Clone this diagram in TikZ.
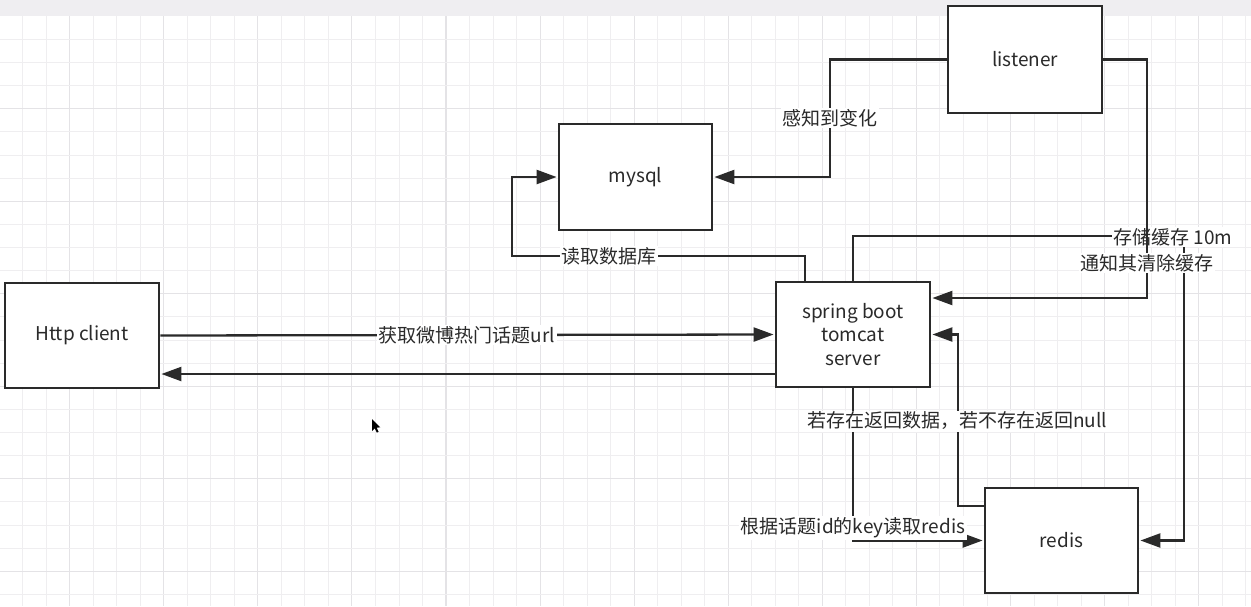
\documentclass[tikz,border=0pt]{standalone}
\usepackage{fontspec}
\setmainfont{Noto Sans CJK SC}
\usetikzlibrary{arrows.meta}
\definecolor{gridminor}{HTML}{EFEEF0}
\definecolor{gridmajor}{HTML}{E4E3E6}
\definecolor{band}{HTML}{EFEEF1}
\definecolor{ink}{HTML}{2A2A2A}
\tikzset{
  box/.style={draw=ink, line width=2.8pt, fill=white, minimum width=154pt, minimum height=105pt, inner sep=0pt, align=center, text=ink, font=\fontsize{19pt}{23.5pt}\selectfont},
  conn/.style={draw=ink, line width=2.3pt, -{Triangle[length=20pt,width=14pt]}, shorten >=1pt},
  plain/.style={draw=ink, line width=2.3pt},
  lbl/.style={fill=white, text=ink, inner sep=1.5pt, font=\fontsize{19pt}{23.5pt}\selectfont, align=center}
}
\begin{document}
\begin{tikzpicture}[x=1pt,y=-1pt]
\useasboundingbox (0,0) rectangle (1251,606);
% background
\fill[white] (0,0) rectangle (1251,606);
\foreach \k in {-2,...,50} {
  \pgfmathsetmacro\xx{69.7+23.52*\k}
  \pgfmathtruncatemacro\m{mod(\k+400,4)}
  \ifnum\m=0
    \draw[gridmajor, line width=1.1pt] (\xx,16.3) -- (\xx,606);
  \else
    \draw[gridminor, line width=0.9pt] (\xx,16.3) -- (\xx,606);
  \fi
}
\foreach \k in {-3,...,22} {
  \pgfmathsetmacro\yy{108.7+23.125*\k}
  \pgfmathtruncatemacro\m{mod(\k+400,4)}
  \ifnum\m=0
    \draw[gridmajor, line width=1.1pt] (0,\yy) -- (1251,\yy);
  \else
    \draw[gridminor, line width=0.9pt] (0,\yy) -- (1251,\yy);
  \fi
}
\fill[band] (0,0) rectangle (1251,16.3);

% nodes
\node[box, minimum height=107pt] (listener) at (1025,59.5) {listener};
\node[box, minimum width=153pt, minimum height=106pt] (mysql) at (635.5,177) {mysql};
\node[box] (http) at (82,335.5) {Http client};
\node[box] (spring) at (853,334.5) {spring boot\\tomcat\\server};
\node[box, minimum width=153pt] (redis) at (1061.5,540.5) {redis};

% connectors
\draw[conn] (http.east) -- (spring.west);
\node[lbl] (l1) at (467,335) {获取微博热门话题url};
\draw[conn] ([yshift=-39.5pt]spring.west) -- ([yshift=-38.5pt]http.east);

\draw[conn] (listener.west) -| (830,177) -- (mysql.east);
\node[lbl] (l3) at (830,118) {感知到变化};

\draw[conn] ([xshift=-48pt]spring.north) |- (512,256) |- (mysql.west);
\node[lbl] (l4) at (609,256) {读取数据库};

\draw[conn] (spring.north) |- (1184,236) |- (redis.east);
\node[lbl] (l6) at (1173,237) {存储缓存 10m};

\draw[conn] (listener.east) -| (1147,298) -- ([yshift=36.5pt]spring.east);
\node[lbl] (l5) at (1147,263) {通知其清除缓存};

\draw[conn] (spring.south) |- (redis.west);
\node[lbl] (l7) at (853,528) {根据话题id的key读取redis};

\draw[conn] ([yshift=34.5pt]redis.west) -| (958,334.5) -- (spring.east);
\node[lbl] (l8) at (957,421) {若存在返回数据，若不存在返回null};

% mouse cursor
\fill[black] (372,419) -- (372,431) -- (374.8,428.3) -- (376.8,432.6) -- (378.6,431.8) -- (376.6,427.6) -- (380.4,427.4) -- cycle;
\end{tikzpicture}
\end{document}
